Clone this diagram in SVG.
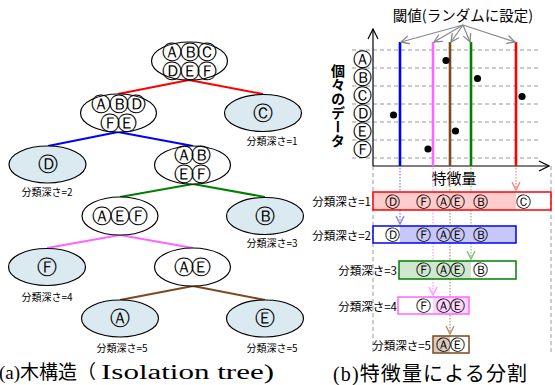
<svg xmlns="http://www.w3.org/2000/svg" width="555" height="385" viewBox="0 0 555 385">
<defs>
<style>
text{font-family:"Noto Sans CJK JP","Noto Sans",sans-serif;fill:#000}
.n{fill:#fff;stroke:#000;stroke-width:1.2}
.leaf{fill:#dbeaf1;stroke:#000;stroke-width:1.2}
.c15{font-family:"DejaVu Sans",sans-serif;font-size:19.5px;letter-spacing:-2.3px;text-anchor:middle;dominant-baseline:central}
.lab{font-size:10px;text-anchor:middle}
.rlab{font-size:11.5px;text-anchor:end;dominant-baseline:central}
.bx{font-family:"DejaVu Sans",sans-serif;font-size:14.5px;text-anchor:middle;dominant-baseline:central}
.ax{font-family:"DejaVu Sans",sans-serif;font-size:19px;text-anchor:middle;dominant-baseline:central}
.e{stroke-width:2;fill:none}
.grid{stroke:#999;stroke-width:1;stroke-dasharray:4 3}
.th{stroke-width:2.6}
.dot{stroke-width:1.2;stroke-dasharray:1.5 1.5;fill:none}
.cap{font-family:"Liberation Serif","Noto Sans CJK JP",serif;font-size:20px}
</style>
<marker id="ag" markerWidth="10" markerHeight="10" refX="9" refY="5" orient="auto" markerUnits="userSpaceOnUse"><path d="M1,1 L9,5 L1,9" fill="none" stroke="#888" stroke-width="1.3"/></marker>
<marker id="ak" markerWidth="12" markerHeight="12" refX="11" refY="6" orient="auto" markerUnits="userSpaceOnUse"><path d="M1,1 L11,6 L1,11" fill="none" stroke="#000" stroke-width="1.2"/></marker>
<marker id="ab" markerWidth="10" markerHeight="10" refX="9" refY="5" orient="auto" markerUnits="userSpaceOnUse"><path d="M1,1 L9,5 L1,9" fill="none" stroke="#8080ff" stroke-width="1.4"/></marker>
<marker id="ar" markerWidth="10" markerHeight="10" refX="9" refY="5" orient="auto" markerUnits="userSpaceOnUse"><path d="M1,1 L9,5 L1,9" fill="none" stroke="#ff8080" stroke-width="1.4"/></marker>
<marker id="agr" markerWidth="10" markerHeight="10" refX="9" refY="5" orient="auto" markerUnits="userSpaceOnUse"><path d="M1,1 L9,5 L1,9" fill="none" stroke="#80c080" stroke-width="1.4"/></marker>
<marker id="ap" markerWidth="10" markerHeight="10" refX="9" refY="5" orient="auto" markerUnits="userSpaceOnUse"><path d="M1,1 L9,5 L1,9" fill="none" stroke="#ff99ff" stroke-width="1.4"/></marker>
<marker id="abr" markerWidth="10" markerHeight="10" refX="9" refY="5" orient="auto" markerUnits="userSpaceOnUse"><path d="M1,1 L9,5 L1,9" fill="none" stroke="#b09070" stroke-width="1.4"/></marker>
</defs>
<rect width="555" height="385" fill="#fff"/>

<!-- tree connectors -->
<g id="connectors">
<path class="e" stroke="#ff0000" d="M189,80 L118,94 M189,80 L263,94"/>
<path class="e" stroke="#0000ff" d="M118,132 L48,146 M118,132 L193,146"/>
<path class="e" stroke="#008000" d="M193,184 L120,197 M193,184 L265,197"/>
<path class="e" stroke="#ff66ff" d="M120,235 L47,248 M120,235 L193,248"/>
<path class="e" stroke="#7b4a1e" d="M193,286 L120,300 M193,286 L265,300"/>
</g>

<g id="root"><ellipse class="n" cx="189.5" cy="61" rx="38" ry="19"/><text class="c15" x="188.5" y="52.5">ⒶⒷⒸ</text><text class="c15" x="188.5" y="71">ⒹⒺⒻ</text></g>
<g id="n_abdfe"><ellipse class="n" cx="118.5" cy="113" rx="38" ry="19"/><text class="c15" x="117.5" y="104.5">ⒶⒷⒹ</text><text class="c15" x="117.5" y="123">ⒻⒺ</text></g>
<g id="leaf_c"><ellipse class="leaf" cx="263" cy="113" rx="38.5" ry="18.5"/><text class="c15" x="262" y="113">Ⓒ</text><text class="lab" x="272" y="145">分類深さ=1</text></g>
<g id="leaf_d"><ellipse class="leaf" cx="47.5" cy="164.5" rx="38.5" ry="18.5"/><text class="c15" x="46.5" y="164.5">Ⓓ</text><text class="lab" x="47" y="196">分類深さ=2</text></g>
<g id="n_abef"><ellipse class="n" cx="192.5" cy="165" rx="38" ry="19"/><text class="c15" x="191.5" y="155">ⒶⒷ</text><text class="c15" x="191.5" y="174">ⒺⒻ</text></g>
<g id="n_aef"><ellipse class="n" cx="120" cy="216" rx="38" ry="19"/><text class="c15" x="119" y="216">ⒶⒺⒻ</text></g>
<g id="leaf_b"><ellipse class="leaf" cx="265" cy="216" rx="38.5" ry="18.5"/><text class="c15" x="264" y="216">Ⓑ</text><text class="lab" x="272" y="247">分類深さ=3</text></g>
<g id="leaf_f"><ellipse class="leaf" cx="47" cy="267" rx="38.5" ry="18.5"/><text class="c15" x="46" y="267">Ⓕ</text><text class="lab" x="47" y="301">分類深さ=4</text></g>
<g id="n_ae"><ellipse class="n" cx="192.5" cy="267" rx="38" ry="19"/><text class="c15" x="191.5" y="267">ⒶⒺ</text></g>
<g id="leaf_a"><ellipse class="leaf" cx="120" cy="318.5" rx="38.5" ry="18.5"/><text class="c15" x="119" y="318.5">Ⓐ</text><text class="lab" x="122" y="352">分類深さ=5</text></g>
<g id="leaf_e"><ellipse class="leaf" cx="265" cy="318.5" rx="38.5" ry="18.5"/><text class="c15" x="264" y="318.5">Ⓔ</text><text class="lab" x="272" y="352">分類深さ=5</text></g>

<text class="cap" x="-1" y="379" style="font-size:19px">(a)木構造（<tspan x="101" textLength="173" lengthAdjust="spacingAndGlyphs" style="font-size:20px">Isolation tree)</tspan></text>

<!-- right: feature plot -->
<g id="plot">
<g class="grid">
<line x1="352" y1="50" x2="540" y2="50"/>
<line x1="352" y1="68" x2="540" y2="68"/>
<line x1="352" y1="86" x2="540" y2="86"/>
<line x1="352" y1="104" x2="540" y2="104"/>
<line x1="352" y1="122" x2="540" y2="122"/>
<line x1="352" y1="140" x2="540" y2="140"/>
<line x1="352" y1="158" x2="540" y2="158"/>
<line x1="373" y1="166" x2="373" y2="355"/>
<line x1="551" y1="166" x2="551" y2="355"/>
</g>
<text class="ax" x="362.5" y="59">Ⓐ</text>
<text class="ax" x="362.5" y="77">Ⓑ</text>
<text class="ax" x="362.5" y="95">Ⓒ</text>
<text class="ax" x="362.5" y="113">Ⓓ</text>
<text class="ax" x="362.5" y="131">Ⓔ</text>
<text class="ax" x="362.5" y="149">Ⓕ</text>
<text x="338" y="64" style="font-size:14px;writing-mode:vertical-rl;font-weight:bold">個々のデータ</text>
<line x1="373" y1="166" x2="373" y2="29" stroke="#000" stroke-width="1.2" marker-end="url(#ak)"/>
<line x1="373" y1="166" x2="549" y2="166" stroke="#000" stroke-width="1.2" marker-end="url(#ak)"/>
<line class="th" x1="400" y1="42" x2="400" y2="166" stroke="#0000ff"/>
<line class="th" x1="433" y1="42" x2="433" y2="166" stroke="#ff66ff"/>
<line class="th" x1="450" y1="42" x2="450" y2="166" stroke="#7b4a1e"/>
<line class="th" x1="471" y1="42" x2="471" y2="166" stroke="#008000"/>
<line class="th" x1="516" y1="42" x2="516" y2="166" stroke="#ff0000"/>
<g fill="#000">
<circle cx="446" cy="60.5" r="3.6"/>
<circle cx="477.5" cy="78.5" r="3.6"/>
<circle cx="522" cy="96.5" r="3.6"/>
<circle cx="393.5" cy="115" r="3.6"/>
<circle cx="455.5" cy="131" r="3.6"/>
<circle cx="428" cy="149" r="3.6"/>
</g>
<text x="463" y="21" style="font-size:14.5px;text-anchor:middle">閾値(ランダムに設定)</text>
<g stroke="#888" stroke-width="1.2" fill="none">
<line x1="463" y1="25" x2="401" y2="42" marker-end="url(#ag)"/>
<line x1="463" y1="25" x2="434" y2="42" marker-end="url(#ag)"/>
<line x1="463" y1="25" x2="451" y2="42" marker-end="url(#ag)"/>
<line x1="463" y1="25" x2="470" y2="42" marker-end="url(#ag)"/>
<line x1="463" y1="25" x2="515" y2="42" marker-end="url(#ag)"/>
</g>
<text x="454" y="184" style="font-size:15px;text-anchor:middle">特徴量</text>
</g>

<!-- split boxes -->
<g id="split_arrows">
<line class="dot" x1="400" y1="168" x2="400" y2="224" stroke="#8080ff" marker-end="url(#ab)"/>
<line class="dot" x1="516" y1="168" x2="516" y2="190" stroke="#ff8080" marker-end="url(#ar)"/>
<line class="dot" x1="471" y1="168" x2="471" y2="259" stroke="#80c080" marker-end="url(#agr)"/>
<line class="dot" x1="433" y1="168" x2="433" y2="295" stroke="#ff99ff" marker-end="url(#ap)"/>
<line class="dot" x1="450" y1="168" x2="450" y2="334" stroke="#b09070" marker-end="url(#abr)"/>
</g>

<g id="box1">
<rect x="373" y="192" width="143" height="18" fill="#ffcccc"/>
<rect x="373" y="192" width="178" height="18" fill="none" stroke="#ff0000" stroke-width="1.5"/>
<text class="rlab" x="371" y="201">分類深さ=1</text>
<text class="bx" x="392" y="201.5">Ⓓ</text><text class="bx" x="423" y="201.5">Ⓕ</text><text class="bx" x="443" y="201.5">Ⓐ</text><text class="bx" x="457" y="201.5">Ⓔ</text><text class="bx" x="480" y="201.5">Ⓑ</text><text class="bx" x="523" y="201.5">Ⓒ</text>
</g>
<g id="box2">
<rect x="400" y="226" width="116" height="17" fill="#c8c8f8"/>
<rect x="373" y="226" width="143" height="17" fill="none" stroke="#0000ff" stroke-width="1.5"/>
<text class="rlab" x="371" y="234.5">分類深さ=2</text>
<text class="bx" x="392" y="235">Ⓓ</text><text class="bx" x="423" y="235">Ⓕ</text><text class="bx" x="443" y="235">Ⓐ</text><text class="bx" x="457" y="235">Ⓔ</text><text class="bx" x="480" y="235">Ⓑ</text>
</g>
<g id="box3">
<rect x="399" y="261" width="72" height="18" fill="#cfe6cf"/>
<rect x="399" y="261" width="117" height="18" fill="none" stroke="#008000" stroke-width="1.5"/>
<text class="rlab" x="397" y="270">分類深さ=3</text>
<text class="bx" x="423" y="270">Ⓕ</text><text class="bx" x="443" y="270">Ⓐ</text><text class="bx" x="457" y="270">Ⓔ</text><text class="bx" x="480" y="270">Ⓑ</text>
</g>
<g id="box4">
<rect x="433" y="297" width="36" height="17" fill="#ffd6ff"/>
<rect x="398" y="297" width="71" height="17" fill="none" stroke="#ff66ff" stroke-width="1.5"/>
<text class="rlab" x="397" y="305.5">分類深さ=4</text>
<text class="bx" x="423" y="305.5">Ⓕ</text><text class="bx" x="443" y="305.5">Ⓐ</text><text class="bx" x="457" y="305.5">Ⓔ</text>
</g>
<g id="box5">
<rect x="433" y="336" width="17" height="17" fill="#d9cbbd"/>
<rect x="433" y="336" width="36" height="17" fill="none" stroke="#7b4a1e" stroke-width="1.5"/>
<text class="rlab" x="431" y="344.5">分類深さ=5</text>
<text class="bx" x="443" y="344.5">Ⓐ</text><text class="bx" x="457" y="344.5">Ⓔ</text>
</g>

<text class="cap" x="333" y="381" textLength="194" lengthAdjust="spacing">(b)特徴量による分割</text>
</svg>
